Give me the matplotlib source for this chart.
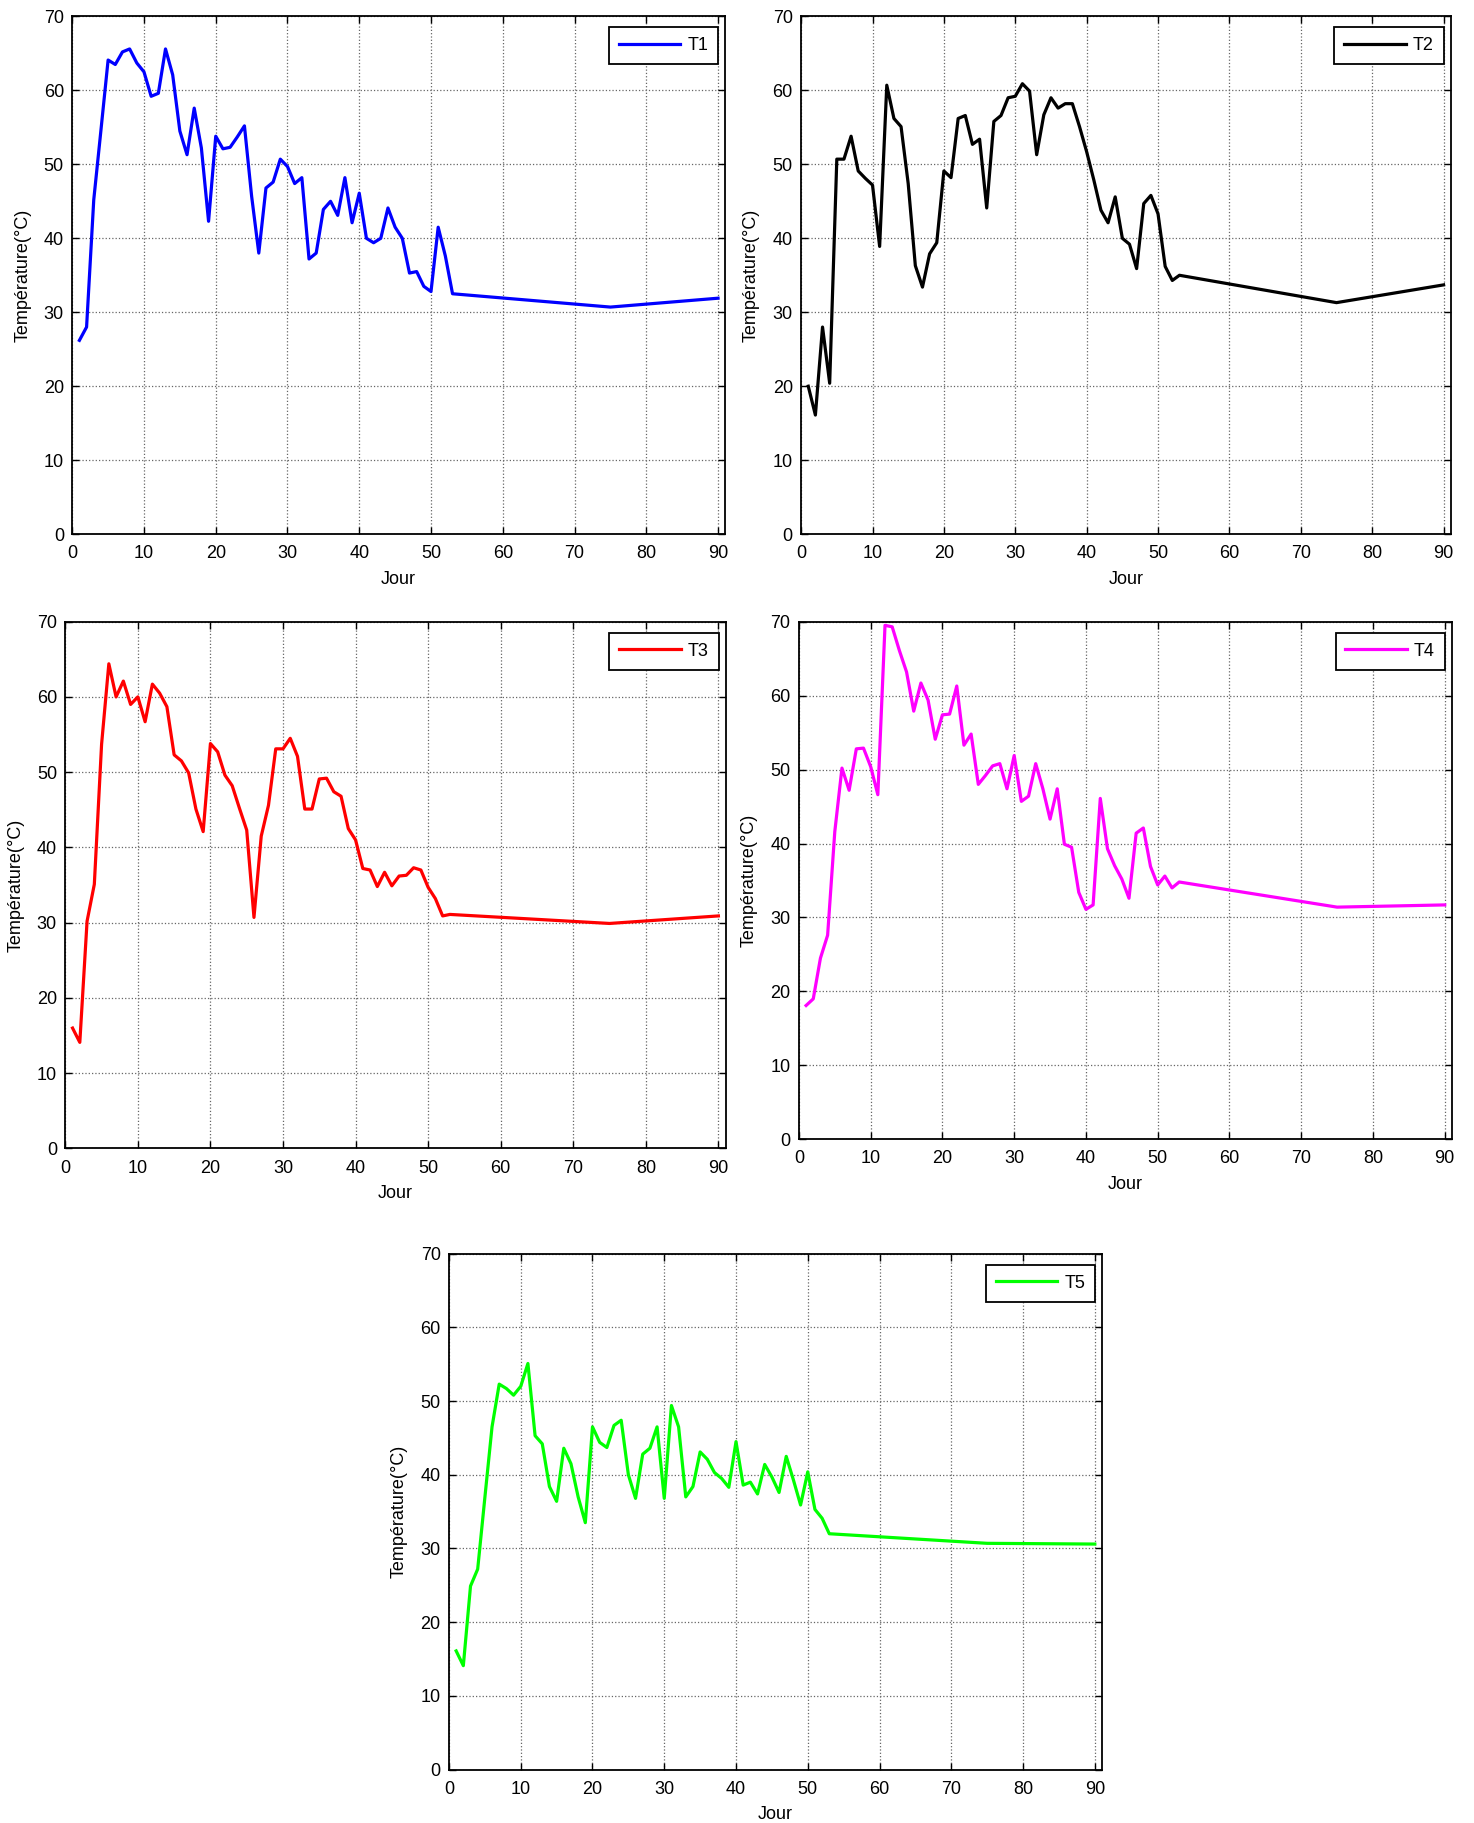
import numpy as np
import matplotlib
matplotlib.use('Agg')
import matplotlib.pyplot as plt

plt.rcParams['font.family'] = ['Liberation Sans', 'DejaVu Sans']

# Days: daily readings up to day 53, then day 75 and 90
days = list(range(1, 54)) + [75, 90]

T1 = [26.2, 28.0, 45.2, 54.6, 64.1, 63.5, 65.2, 65.6, 63.7, 62.5,
      59.2, 59.6, 65.6, 62.1, 54.5, 51.3, 57.6, 52.2, 42.3, 53.8,
      52.1, 52.3, 53.7, 55.2, 45.7, 38.0, 46.8, 47.6, 50.7, 49.7,
      47.4, 48.2, 37.2, 38.0, 43.9, 45.0, 43.1, 48.2, 42.1, 46.1,
      40.0, 39.4, 40.0, 44.1, 41.5, 40.0, 35.3, 35.5, 33.5, 32.8,
      41.5, 37.6, 32.5, 30.7, 31.9]

T2 = [20.0, 16.1, 28.0, 20.4, 50.7, 50.7, 53.8, 49.1, 48.1, 47.2,
      38.9, 60.7, 56.2, 55.1, 47.4, 36.3, 33.4, 37.9, 39.4, 49.1,
      48.2, 56.2, 56.6, 52.7, 53.4, 44.1, 55.8, 56.6, 59.0, 59.2,
      60.9, 59.9, 51.3, 56.7, 59.0, 57.6, 58.2, 58.2, 55.1, 51.7,
      47.9, 43.8, 42.1, 45.6, 40.0, 39.2, 35.9, 44.7, 45.8, 43.3,
      36.2, 34.3, 35.0, 31.3, 33.7]

T3 = [16.0, 14.1, 30.2, 35.1, 53.7, 64.4, 60.0, 62.1, 59.0, 60.0,
      56.7, 61.7, 60.5, 58.7, 52.3, 51.5, 49.9, 45.1, 42.1, 53.8,
      52.7, 49.6, 48.2, 45.2, 42.3, 30.7, 41.5, 45.6, 53.1, 53.1,
      54.5, 52.1, 45.1, 45.1, 49.1, 49.2, 47.4, 46.8, 42.5, 41.0,
      37.2, 37.0, 34.8, 36.7, 34.9, 36.2, 36.3, 37.3, 37.0, 34.7,
      33.2, 30.9, 31.1, 29.9, 30.9]

T4 = [18.1, 19.0, 24.5, 27.6, 41.6, 50.2, 47.2, 52.8, 52.9, 50.4,
      46.6, 69.5, 69.3, 66.1, 63.2, 57.9, 61.7, 59.4, 54.1, 57.4,
      57.5, 61.3, 53.3, 54.8, 48.0, 49.2, 50.5, 50.8, 47.4, 51.9,
      45.7, 46.4, 50.8, 47.4, 43.3, 47.4, 39.9, 39.5, 33.4, 31.1,
      31.7, 46.1, 39.3, 37.0, 35.2, 32.6, 41.4, 42.1, 36.9, 34.4,
      35.6, 34.0, 34.8, 31.4, 31.7]

T5 = [16.1, 14.1, 24.9, 27.2, 36.9, 46.5, 52.3, 51.7, 50.8, 52.0,
      55.1, 45.3, 44.2, 38.4, 36.4, 43.6, 41.5, 37.0, 33.5, 46.5,
      44.4, 43.7, 46.7, 47.4, 40.0, 36.8, 42.8, 43.6, 46.5, 36.8,
      49.4, 46.5, 37.0, 38.4, 43.1, 42.1, 40.3, 39.5, 38.3, 44.5,
      38.6, 39.0, 37.4, 41.4, 39.7, 37.6, 42.5, 39.3, 35.9, 40.4,
      35.3, 34.1, 32.0, 30.7, 30.6]

series = [('T1', T1, '#0000ff'), ('T2', T2, '#000000'), ('T3', T3, '#ff0000'),
          ('T4', T4, '#ff00ff'), ('T5', T5, '#00ff00')]

# axes rectangles [left, bottom, width, height] in figure fractions
rects = [[0.049, 0.707, 0.443, 0.284],
         [0.5435, 0.707, 0.4407, 0.284],
         [0.0443, 0.370, 0.448, 0.289],
         [0.542, 0.375, 0.443, 0.284],
         [0.3046, 0.0293, 0.443, 0.283]]

fig = plt.figure(figsize=(14.74, 18.23), dpi=100)

for (name, vals, col), r in zip(series, rects):
    ax = fig.add_axes(r)
    ax.plot(days, vals, color=col, linewidth=2.3, label=name)
    ax.set_xlim(0, 91)
    ax.set_ylim(0, 70)
    ax.set_xticks(np.arange(0, 91, 10))
    ax.set_yticks(np.arange(0, 71, 10))
    ax.grid(True, linestyle=':', color='#666666', linewidth=0.9)
    ax.tick_params(direction='in', top=True, right=True, labelsize=13,
                   length=5, width=1)
    ax.tick_params(axis='x', pad=8)
    ax.tick_params(axis='y', pad=6)
    for s in ax.spines.values():
        s.set_linewidth(1.3)
    ax.set_xlabel('Jour', fontsize=13, labelpad=6)
    ax.set_ylabel('Température(°C)', fontsize=13, labelpad=9)
    # legend box sits a few pixels inside the top-right corner
    wpx = r[2] * 1474
    hpx = r[3] * 1823
    leg = ax.legend(loc='upper right', bbox_to_anchor=(1 - 7 / wpx, 1 - 11 / hpx),
                    borderaxespad=0, fontsize=13, fancybox=False,
                    framealpha=1, edgecolor='black', handlelength=3.4,
                    handletextpad=0.4, borderpad=0.55)
    leg.get_frame().set_linewidth(1.3)

fig.savefig('out.png', dpi=100)
